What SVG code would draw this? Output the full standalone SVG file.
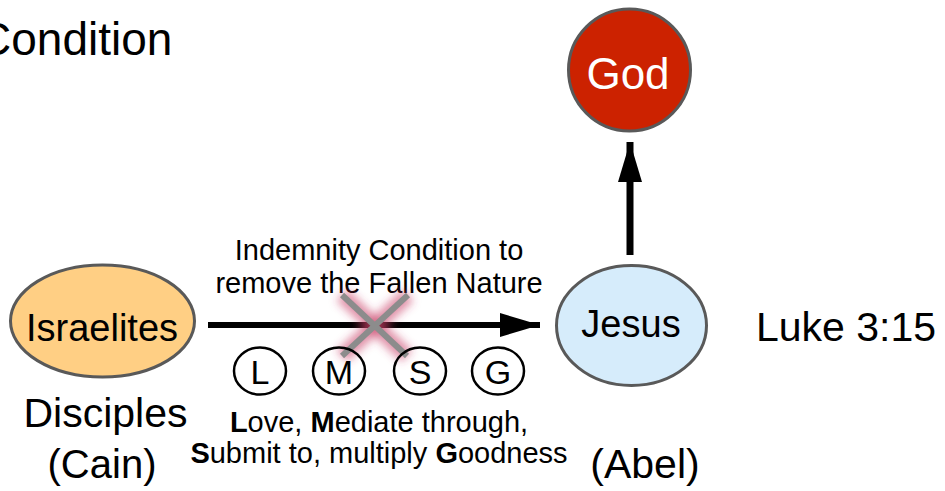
<svg xmlns="http://www.w3.org/2000/svg" width="945" height="491" viewBox="0 0 945 491">
<defs>
<style>
text{font-family:"Liberation Sans",Arial,sans-serif;fill:#000}
.node{stroke:#595959;stroke-width:3}
.c{text-anchor:middle}
.ring{fill:#fff;stroke:#000;stroke-width:2.5}
.x{stroke:#8c8c8c;stroke-width:6;stroke-linecap:butt}
.glow{stroke:#c83c64;stroke-width:16;opacity:0.55}
</style>
<filter id="blur" x="-50%" y="-50%" width="200%" height="200%"><feGaussianBlur stdDeviation="4"/></filter>
<marker id="ah" viewBox="0 0 40 24" refX="40" refY="12" markerWidth="40" markerHeight="24" markerUnits="userSpaceOnUse" orient="auto"><path d="M0,0 L40,12 L0,24 Z" fill="#000"/></marker>
</defs>
<rect width="945" height="491" fill="#fff"/>
<text x="-22" y="55" font-size="46">Condition</text>
<g id="connectors">
<line x1="630" y1="255" x2="630" y2="142" stroke="#000" stroke-width="7" marker-end="url(#ah)"/>
<line x1="208" y1="325" x2="540" y2="325" stroke="#000" stroke-width="6" marker-end="url(#ah)"/>
</g>
<g id="god">
<circle cx="629.5" cy="70" r="61" fill="#cc2200" class="node"/>
<text x="628" y="89" font-size="44" class="c" style="fill:#fff">God</text>
</g>
<g id="israelites">
<ellipse cx="102.5" cy="321" rx="92" ry="56" fill="#ffcf84" class="node"/>
<text x="102" y="341" font-size="38" class="c">Israelites</text>
</g>
<g id="jesus">
<ellipse cx="631.5" cy="325.5" rx="75" ry="60" fill="#d6ecfb" class="node"/>
<text x="631" y="337" font-size="38" class="c">Jesus</text>
</g>
<g id="label-top">
<text x="379" y="260" font-size="29" class="c">Indemnity Condition to</text>
<text x="379" y="293" font-size="29" class="c">remove the Fallen Nature</text>
</g>
<g id="cross">
<g filter="url(#blur)">
<line x1="342" y1="295" x2="407" y2="356" class="glow"/>
<line x1="408" y1="295" x2="342" y2="356" class="glow"/>
</g>
<line x1="342" y1="295" x2="407" y2="356" class="x"/>
<line x1="408" y1="295" x2="342" y2="356" class="x"/>
</g>
<g id="circles">
<ellipse cx="260" cy="371" rx="26" ry="23.5" class="ring"/>
<text x="260" y="384" font-size="34" class="c">L</text>
<ellipse cx="339" cy="371" rx="26" ry="23.5" class="ring" fill-opacity="0"/>
<text x="339" y="384" font-size="34" class="c">M</text>
<ellipse cx="420" cy="371" rx="26" ry="23.5" class="ring" fill-opacity="0"/>
<text x="420" y="384" font-size="34" class="c">S</text>
<ellipse cx="498" cy="371" rx="26" ry="23.5" class="ring"/>
<text x="498" y="384" font-size="34" class="c">G</text>
</g>
<g id="label-bottom">
<text x="379" y="432" font-size="29" class="c"><tspan font-weight="bold">L</tspan>ove, <tspan font-weight="bold">M</tspan>ediate through,</text>
<text x="379" y="463" font-size="29" class="c"><tspan font-weight="bold">S</tspan>ubmit to, multiply <tspan font-weight="bold">G</tspan>oodness</text>
</g>
<text x="105.5" y="427" font-size="41" class="c">Disciples</text>
<text x="102" y="478" font-size="40" class="c">(Cain)</text>
<text x="645" y="478" font-size="41" class="c">(Abel)</text>
<text x="756" y="341" font-size="41">Luke 3:15</text>
</svg>
